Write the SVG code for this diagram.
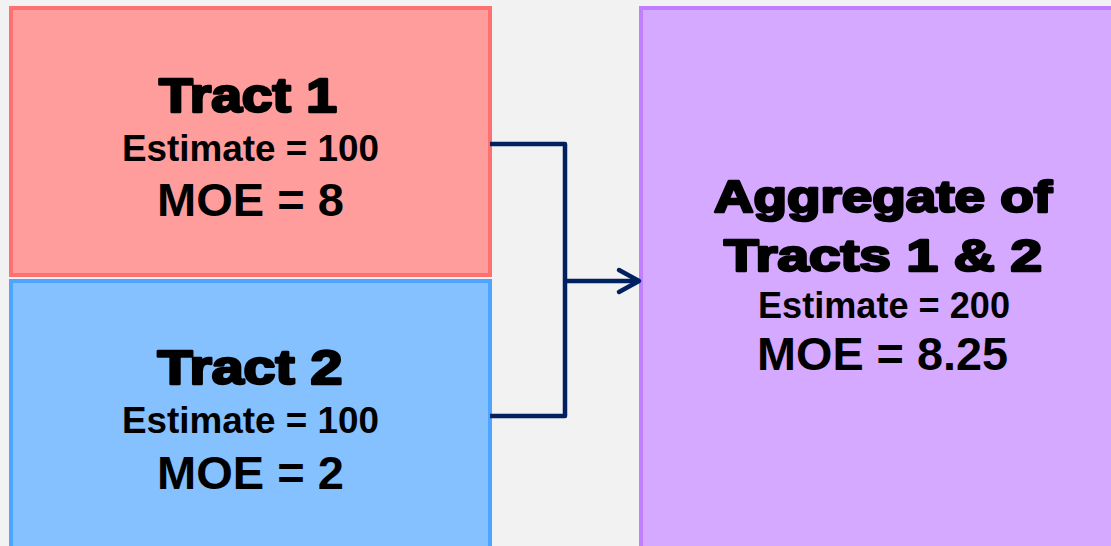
<svg xmlns="http://www.w3.org/2000/svg" width="1111" height="546" viewBox="0 0 1111 546">
  <style>
    .head { font-family: "Liberation Sans", Arial, sans-serif; font-weight: 700; fill: #000; stroke: #000; stroke-width: 2.6; stroke-linejoin: round; text-anchor: middle; }
    .est { font-family: "Liberation Sans", Arial, sans-serif; font-weight: 700; font-size: 36px; fill: #000; text-anchor: middle; }
    .moe { font-family: "Liberation Sans", Arial, sans-serif; font-weight: 700; font-size: 47px; fill: #000; text-anchor: middle; }
    .conn { fill: none; stroke: #002060; stroke-width: 4.5; stroke-linejoin: round; }
  </style>
  <rect width="1111" height="546" fill="#f2f2f2"/>
  <g id="tract1">
    <rect x="11" y="8" width="479" height="267" fill="#ff9d9d" stroke="#ff7171" stroke-width="4"/>
    <text class="head" x="248" y="112" font-size="48" textLength="178" lengthAdjust="spacingAndGlyphs">Tract 1</text>
    <text class="est" x="250.5" y="161" textLength="257" lengthAdjust="spacingAndGlyphs">Estimate = 100</text>
    <text class="moe" x="250.5" y="216" textLength="187" lengthAdjust="spacingAndGlyphs">MOE = 8</text>
  </g>
  <g id="tract2">
    <rect x="11" y="281" width="479" height="280" fill="#85c1ff" stroke="#4da5ff" stroke-width="4"/>
    <text class="head" x="250" y="384" font-size="48" textLength="185" lengthAdjust="spacingAndGlyphs">Tract 2</text>
    <text class="est" x="250.5" y="433" textLength="257" lengthAdjust="spacingAndGlyphs">Estimate = 100</text>
    <text class="moe" x="250.5" y="489" textLength="187" lengthAdjust="spacingAndGlyphs">MOE = 2</text>
  </g>
  <g id="aggregate">
    <rect x="641" y="8" width="490" height="560" fill="#d5a9ff" stroke="#bf7fff" stroke-width="4"/>
    <text class="head" x="883" y="212" font-size="45" textLength="338" lengthAdjust="spacingAndGlyphs">Aggregate of</text>
    <text class="head" x="883" y="271" font-size="45" textLength="318" lengthAdjust="spacingAndGlyphs">Tracts 1 &amp; 2</text>
    <text class="est" x="884" y="318" textLength="252" lengthAdjust="spacingAndGlyphs">Estimate = 200</text>
    <text class="moe" x="882.5" y="370" textLength="251" lengthAdjust="spacingAndGlyphs">MOE = 8.25</text>
  </g>
  <g id="connectors">
    <path class="conn" d="M490 144 H565 V416 H490"/>
    <path class="conn" d="M565 281 H638"/>
    <path class="conn" d="M619 270 L639 281 L619 292" stroke-linecap="round"/>
  </g>
</svg>
